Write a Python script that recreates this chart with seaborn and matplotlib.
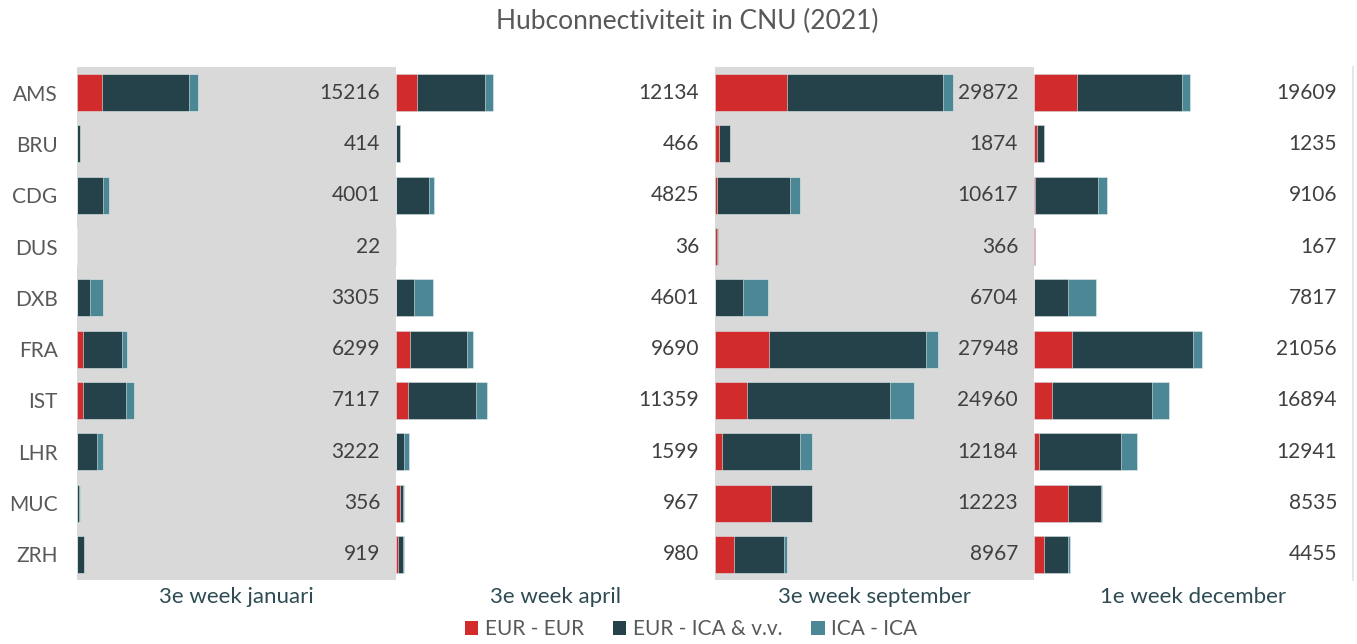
"""Hubconnectiviteit in CNU (2021) - stacked bars per period."""
import matplotlib
matplotlib.use("Agg")
import matplotlib.pyplot as plt
from matplotlib.patches import Patch
import numpy as np
import pandas as pd
import seaborn as sns

sns.set_theme(style="white")
plt.rcParams["font.family"] = ["Lato", "DejaVu Sans"]

HUBS = ["AMS", "BRU", "CDG", "DUS", "DXB", "FRA", "IST", "LHR", "MUC", "ZRH"]
PERIODS = ["3e week januari", "3e week april", "3e week september", "1e week december"]
SERIES = ["EUR - EUR", "EUR - ICA & v.v.", "ICA - ICA"]

# segment values per period, in HUBS order
eur_eur = {
    "3e week januari":   [3080, 20, 10, 10, 0, 809, 720, 0, 20, 60],
    "3e week april":     [2627, 10, 40, 30, 0, 1796, 1467, 19, 524, 245],
    "3e week september": [9050, 511, 252, 300, 0, 6809, 4020, 921, 7032, 2347],
    "1e week december":  [5435, 397, 168, 150, 0, 4763, 2264, 670, 4309, 1219],
}
eur_ica = {
    "3e week januari":   [11000, 380, 3260, 12, 1631, 4894, 5422, 2449, 250, 840],
    "3e week april":     [8548, 440, 4110, 6, 2217, 7100, 8551, 1040, 362, 612],
    "3e week september": [19482, 1363, 9148, 66, 3478, 19593, 17924, 9798, 5107, 6285],
    "1e week december":  [13087, 838, 7889, 17, 4287, 15123, 12576, 10261, 4100, 3068],
}
ica_ica = {
    "3e week januari":   [1136, 14, 731, 0, 1674, 596, 975, 773, 86, 19],
    "3e week april":     [959, 16, 675, 0, 2384, 794, 1341, 540, 81, 123],
    "3e week september": [1340, 0, 1217, 0, 3226, 1546, 3016, 1465, 84, 335],
    "1e week december":  [1087, 0, 1049, 0, 3530, 1170, 2054, 2010, 126, 168],
}
totals = {
    "3e week januari":   [15216, 414, 4001, 22, 3305, 6299, 7117, 3222, 356, 919],
    "3e week april":     [12134, 466, 4825, 36, 4601, 9690, 11359, 1599, 967, 980],
    "3e week september": [29872, 1874, 10617, 366, 6704, 27948, 24960, 12184, 12223, 8967],
    "1e week december":  [19609, 1235, 9106, 167, 7817, 21056, 16894, 12941, 8535, 4455],
}

COLORS = ["#D22B2B", "#25424A", "#4B8794"]
GRAY_BG = "#D9D9D9"
XMAX = 40000

W, H = 1357, 644
fig = plt.figure(figsize=(W / 100, H / 100), dpi=100)

left0, panel_w = 77, 319
top, bottom = 67, 580

for i, period in enumerate(PERIODS):
    ax = fig.add_axes([(left0 + i * panel_w) / W, 1 - bottom / H,
                       panel_w / W, (bottom - top) / H])
    df = pd.DataFrame({
        "hub": HUBS,
        "red": eur_eur[period],
        "dark": eur_ica[period],
        "teal": ica_ica[period],
    })
    df["c1"] = df["red"]
    df["c2"] = df["red"] + df["dark"]
    df["c3"] = df["c2"] + df["teal"]

    # draw cumulative layers back-to-front so they read as stacked segments
    for col, color in zip(["c3", "c2", "c1"], COLORS[::-1]):
        sns.barplot(data=df, x=col, y="hub", order=HUBS, orient="h",
                    color=color, saturation=1, width=0.72,
                    edgecolor="#E8EEF0", linewidth=0.4, ax=ax)

    for j, tot in enumerate(totals[period]):
        ax.text(38000, j, f"{tot}", ha="right", va="center",
                fontsize=15, color="#404040")

    ax.set_xlim(0, XMAX)
    ax.set_ylim(9.5, -0.5)
    ax.set_facecolor(GRAY_BG if i % 2 == 0 else "white")
    ax.set_xticks([])
    ax.set_xlabel(period, fontsize=16, color="#2E4B54", labelpad=5)
    ax.set_ylabel("")
    for s in ax.spines.values():
        s.set_visible(False)

    if i == 0:
        ax.tick_params(axis="y", which="major", length=0, pad=14,
                       labelsize=15, labelcolor="#595959")
        ax.set_yticks(np.arange(-0.5, 10, 1), minor=True)
        ax.tick_params(axis="y", which="minor", length=6, width=1,
                       color=GRAY_BG, direction="out")
    else:
        ax.set_yticks([])

    if i == len(PERIODS) - 1:
        ax.spines["right"].set_visible(True)
        ax.spines["right"].set_color("#E3E3E3")

fig.text(687 / W, 1 - 21 / H, "Hubconnectiviteit in CNU (2021)",
         ha="center", va="center", fontsize=19, color="#595959")

handles = [Patch(facecolor=c, edgecolor="none") for c in COLORS]
fig.legend(handles, SERIES, loc="center", bbox_to_anchor=(691 / W, 1 - 629 / H),
           ncol=3, frameon=False, fontsize=15, handlelength=0.65,
           handleheight=0.65, handletextpad=0.3, columnspacing=1.4,
           labelcolor="#595959")

fig.savefig("out.png", dpi=100)
